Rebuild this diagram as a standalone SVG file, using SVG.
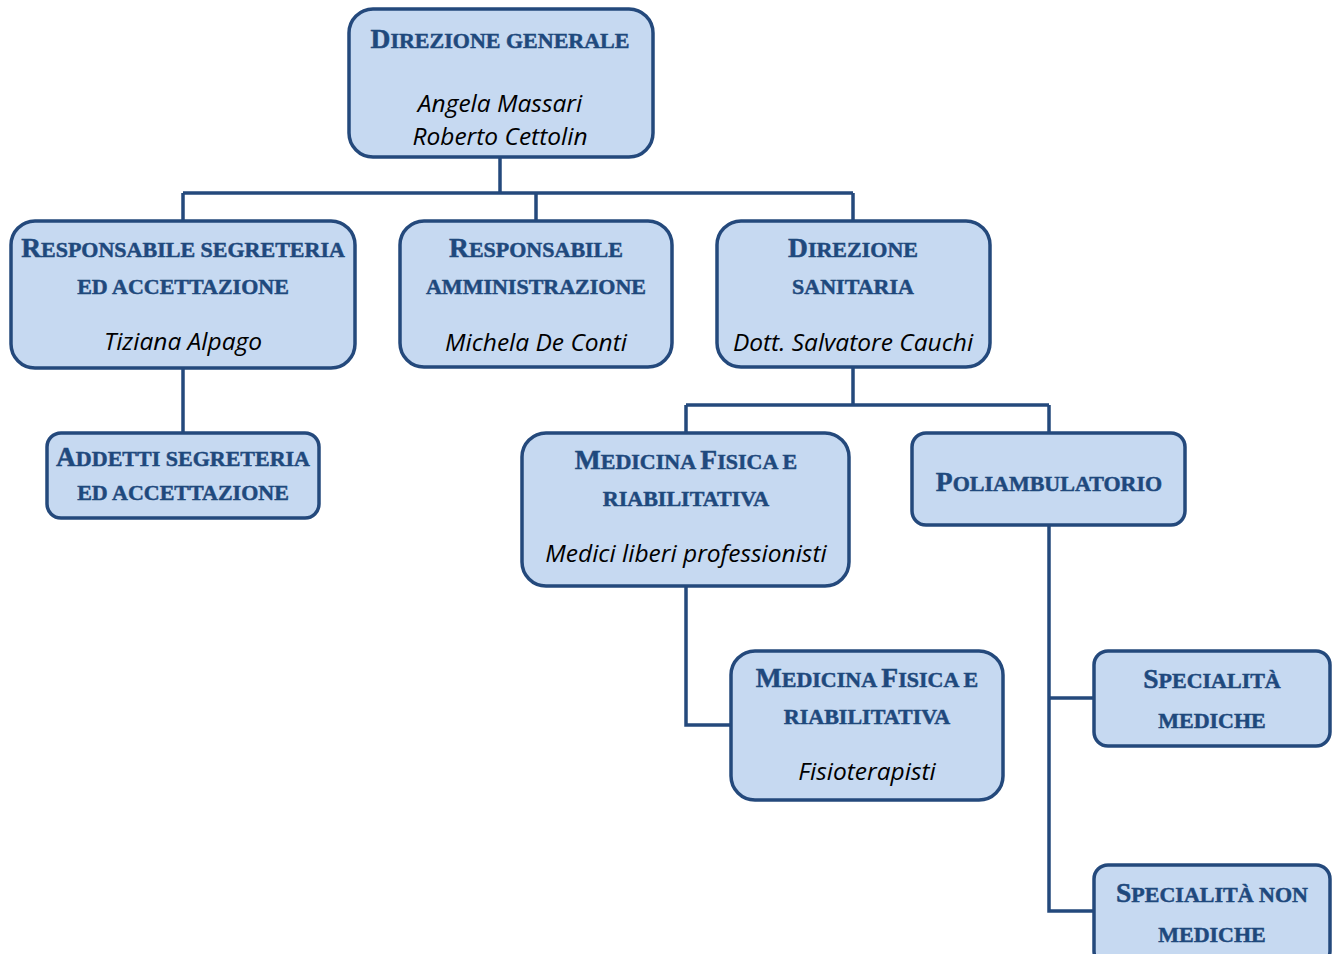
<svg xmlns="http://www.w3.org/2000/svg" width="1337" height="954" viewBox="0 0 1337 954">
<style>
.box{fill:#C6D9F1;stroke:#24497C;stroke-width:3.5}
.t{font-family:"Liberation Serif","DejaVu Serif",serif;font-weight:bold;fill:#1F497D;stroke:#1F497D;stroke-width:0.5;font-size:22px;text-anchor:middle}
.b{font-size:27.5px}
.i{font-family:"Open Sans",Lato,sans-serif;font-style:italic;font-size:24.5px;fill:#000;text-anchor:middle}
.c{fill:none;stroke:#24497C;stroke-width:3.5}
</style>
<rect width="1337" height="954" fill="#fff"/>
<g id="connectors">
<path class="c" d="M500 157V193M183 193H853M183 193V220M536 193V220M853 193V220"/>
<path class="c" d="M183 368V432"/>
<path class="c" d="M853 367V405M686 405H1049M686 405V432M1049 405V432"/>
<path class="c" d="M686 586V725H730"/>
<path class="c" d="M1049 525V911H1093M1049 698H1093"/>
</g>
<g id="n_dg">
<rect class="box" x="349" y="9" width="304" height="148" rx="24"/>
<text class="t" x="500" y="48"><tspan class="b">D</tspan>IREZIONE GENERALE</text>
<text class="i" x="500" y="112">Angela Massari</text>
<text class="i" x="500" y="145">Roberto Cettolin</text>
</g>
<g id="n_seg">
<rect class="box" x="11" y="221" width="344" height="147" rx="24"/>
<text class="t" x="183" y="257"><tspan class="b">R</tspan>ESPONSABILE SEGRETERIA</text>
<text class="t" x="183" y="294">ED ACCETTAZIONE</text>
<text class="i" x="183" y="350">Tiziana Alpago</text>
</g>
<g id="n_amm">
<rect class="box" x="400" y="221" width="272" height="146" rx="24"/>
<text class="t" x="536" y="257"><tspan class="b">R</tspan>ESPONSABILE</text>
<text class="t" x="536" y="294">AMMINISTRAZIONE</text>
<text class="i" x="536" y="351">Michela De Conti</text>
</g>
<g id="n_san">
<rect class="box" x="717" y="221" width="273" height="146" rx="24"/>
<text class="t" x="853" y="257"><tspan class="b">D</tspan>IREZIONE</text>
<text class="t" x="853" y="294">SANITARIA</text>
<text class="i" x="853" y="351">Dott. Salvatore Cauchi</text>
</g>
<g id="n_add">
<rect class="box" x="47" y="433" width="272" height="85" rx="14"/>
<text class="t" x="183" y="466"><tspan class="b">A</tspan>DDETTI SEGRETERIA</text>
<text class="t" x="183" y="500">ED ACCETTAZIONE</text>
</g>
<g id="n_mfr1">
<rect class="box" x="522" y="433" width="327" height="153" rx="24"/>
<text class="t" x="686" y="469"><tspan class="b">M</tspan>EDICINA <tspan class="b">F</tspan>ISICA E</text>
<text class="t" x="686" y="506">RIABILITATIVA</text>
<text class="i" x="686" y="562">Medici liberi professionisti</text>
</g>
<g id="n_poli">
<rect class="box" x="912" y="433" width="273" height="92" rx="14"/>
<text class="t" x="1049" y="491"><tspan class="b">P</tspan>OLIAMBULATORIO</text>
</g>
<g id="n_mfr2">
<rect class="box" x="731" y="651" width="272" height="149" rx="24"/>
<text class="t" x="867" y="687"><tspan class="b">M</tspan>EDICINA <tspan class="b">F</tspan>ISICA E</text>
<text class="t" x="867" y="724">RIABILITATIVA</text>
<text class="i" x="867" y="780">Fisioterapisti</text>
</g>
<g id="n_sm">
<rect class="box" x="1094" y="651" width="236" height="95" rx="14"/>
<text class="t" x="1212" y="688"><tspan class="b">S</tspan>PECIALITÀ</text>
<text class="t" x="1212" y="728">MEDICHE</text>
</g>
<g id="n_snm">
<rect class="box" x="1094" y="865" width="236" height="100" rx="14"/>
<text class="t" x="1212" y="902"><tspan class="b">S</tspan>PECIALITÀ NON</text>
<text class="t" x="1212" y="942">MEDICHE</text>
</g>
</svg>
